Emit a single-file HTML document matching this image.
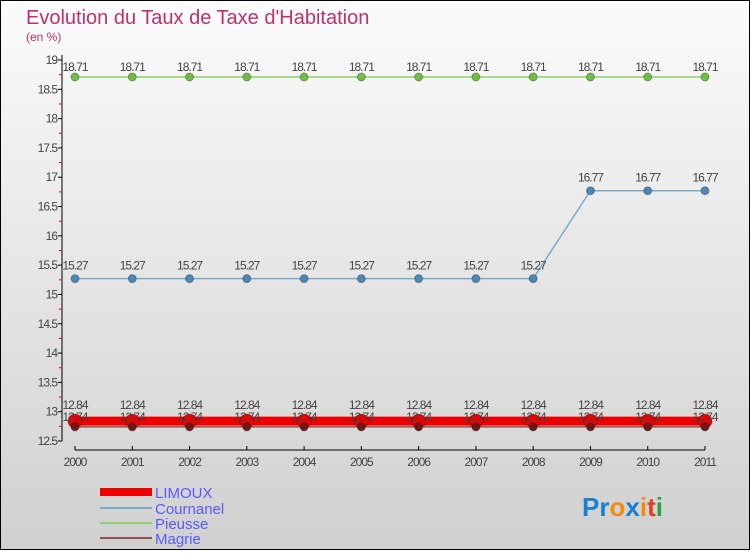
<!DOCTYPE html>
<html><head><meta charset="utf-8"><style>
body{margin:0;width:750px;height:550px;overflow:hidden;font-family:"Liberation Sans",sans-serif}
</style></head><body>
<svg width="750" height="550" xmlns="http://www.w3.org/2000/svg">
<defs><linearGradient id="bg" x1="0" y1="0" x2="0" y2="1"><stop offset="0" stop-color="#fbfbfb"/><stop offset="1" stop-color="#d0d0d0"/></linearGradient></defs>
<rect x="0.5" y="0.5" width="749" height="549" fill="url(#bg)" stroke="#000"/>
<text x="26" y="24" font-size="20" fill="#c0306a">Evolution du Taux de Taxe d'Habitation</text>
<text x="26" y="41" font-size="12" fill="#c0306a">(en %)</text>
<g id="axes"></g>
<g id="series"></g>
<g id="legend" font-size="15" fill="#5a5aff">
<rect x="100" y="488" width="52" height="8" fill="#e00"/>
<text x="155" y="498">LIMOUX</text>
<rect x="100" y="507" width="52" height="2" fill="#7aaccc"/>
<text x="155" y="514">Cournanel</text>
<rect x="100" y="522" width="52" height="2" fill="#8fd070"/>
<text x="155" y="529">Pieusse</text>
<rect x="100" y="537" width="52" height="2" fill="#905050"/>
<text x="155" y="544">Magrie</text>
</g>
<text x="582" y="516" font-size="26" font-weight="bold"><tspan fill="#1a7fd0">Pr</tspan><tspan fill="#f08a10">o</tspan><tspan fill="#1a7fd0">x</tspan><tspan fill="#f08a10">i</tspan><tspan fill="#e04020">t</tspan><tspan fill="#30a040">i</tspan></text>
</svg>
<script>
const years=[2000,2001,2002,2003,2004,2005,2006,2007,2008,2009,2010,2011];
const yTicks=[12.5,13,13.5,14,14.5,15,15.5,16,16.5,17,17.5,18,18.5,19];
const limoux=[12.84,12.84,12.84,12.84,12.84,12.84,12.84,12.84,12.84,12.84,12.84,12.84];
const cournanel=[15.27,15.27,15.27,15.27,15.27,15.27,15.27,15.27,15.27,16.77,16.77,16.77];
const pieusse=[18.71,18.71,18.71,18.71,18.71,18.71,18.71,18.71,18.71,18.71,18.71,18.71];
const magrie=[12.74,12.74,12.74,12.74,12.74,12.74,12.74,12.74,12.74,12.74,12.74,12.74];
const NS="http://www.w3.org/2000/svg";
const X=i=>75+i*(705-75)/11;
const Y=v=>441-(v-12.5)*(441-60)/6.5;
function mk(tag,attrs,parent){const e=document.createElementNS(NS,tag);for(const k in attrs)e.setAttribute(k,attrs[k]);parent.appendChild(e);return e;}
const ax=document.getElementById('axes');
let e=mk('line',{x1:62,y1:55,x2:62,y2:441,stroke:'#000'},ax);


e=mk('line',{x1:75,y1:450,x2:705,y2:450,stroke:'#000'},ax);


yTicks.forEach((t,i)=>{
 mk('line',{x1:58,x2:62,y1:Y(t),y2:Y(t),stroke:'#000'},ax);
 if(i<yTicks.length-1)mk('line',{x1:59,x2:62,y1:Y(t+0.25),y2:Y(t+0.25),stroke:'#e00'},ax);
 const tx=mk('text',{x:57,y:Y(t)+4,'font-size':12,'text-anchor':'end',fill:'#444','letter-spacing':'-1'},ax);
 tx.textContent=String(t);
 
 
});
years.forEach((y,i)=>{
 mk('line',{x1:X(i),x2:X(i),y1:446,y2:450,stroke:'#000'},ax);
 const tx=mk('text',{x:X(i),y:466,'font-size':12,'text-anchor':'middle',fill:'#444','letter-spacing':'-1'},ax);
 tx.textContent=y;
 
 
});
const sg=document.getElementById('series');
function series(name,vals,color,w,r,dot,lab){
 const g=mk('g',{},sg);
 
 
 const p=mk('polyline',{points:vals.map((v,i)=>X(i)+','+Y(v)).join(' '),fill:'none',stroke:color,'stroke-width':w},g);
 
 
 vals.forEach((v,i)=>{
  const c=mk('circle',{cx:X(i),cy:Y(v),r:r,fill:dot,stroke:'rgba(0,0,0,0.3)'},g);
  
  
  const t=mk('text',{x:X(i),y:Y(v)+lab,'font-size':12,'text-anchor':'middle',fill:'#444','letter-spacing':'-1'},g);
  t.textContent=v.toFixed(2).replace('.','.');
  
  
 });
}
series('pieusse',pieusse,'#8fd070',1.5,4,'#70c040',-6);
series('cournanel',cournanel,'#7aaccc',1.5,4,'#4a88b8',-9);
series('limoux',limoux,'#e00',9,7,'#e00',-12);
series('magrie',magrie,'#905050',1.5,4,'#701818',-6);
</script>
</body></html>
